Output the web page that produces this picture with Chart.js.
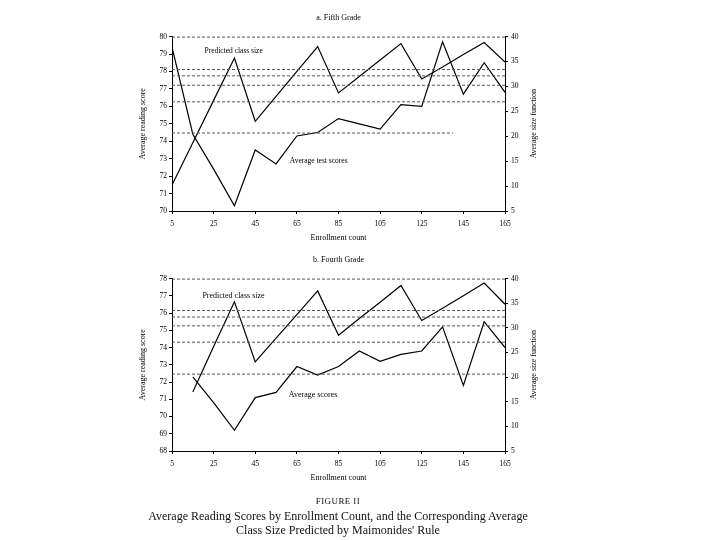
<!DOCTYPE html>
<html>
<head>
<meta charset="utf-8">
<script src="https://cdn.jsdelivr.net/npm/chart.js@4.4.1/dist/chart.umd.min.js"></script>
<style>
body{margin:0;background:#fff;}
#wrap{position:relative;width:720px;height:540px;background:#fff;}
canvas{position:absolute;left:0;}
#chartA{top:0;}
#chartB{top:242px;}
.cap{position:absolute;left:0;width:676px;text-align:center;font-family:"Liberation Serif",serif;color:#111;}
</style>
</head>
<body>
<div id="wrap">
<canvas id="chartA" width="720" height="250"></canvas>
<canvas id="chartB" width="720" height="248"></canvas>
<div class="cap" style="top:496px;font-size:9px;letter-spacing:0.4px">FIGURE II</div>
<div class="cap" style="top:509px;font-size:12px;line-height:14px">Average Reading Scores by Enrollment Count, and the Corresponding Average<br>Class Size Predicted by Maimonides' Rule</div>
</div>
<script>
// enrollment bins (x) and axis ticks
const enrollment = [5, 15, 25, 35, 45, 55, 65, 75, 85, 95, 105, 115, 125, 135, 145, 155, 165]
const xTicks = [5, 25, 45, 65, 85, 105, 125, 145, 165]

// a. Fifth grade
const scoresFifth = [79.4, 74.4, 72.4, 70.3, 73.5, 72.7, 74.3, 74.5, 75.3, 75.0, 74.7, 76.1, 76.0, 79.7, 76.7, 78.5, 76.8]
const sizeFifth = [10.2, 18.7, 27.2, 35.7, 23.0, 28.0, 33.0, 38.0, 28.7, 32.0, 35.3, 38.6, 31.5, 33.9, 36.4, 38.8, 34.9]
const guidesFifth = [78.11, 77.75, 77.21, 76.26]
const guideFifthShort = [74.47]

// b. Fourth grade
const scoresFourth = [null, 72.3, 70.8, 69.2, 71.1, 71.4, 72.9, 72.4, 72.9, 73.8, 73.2, 73.6, 73.8, 75.2, 71.8, 75.5, 74.0]
const sizeFourth = [null, 17.0, 26.2, 35.3, 23.1, 27.9, 32.7, 37.5, 28.5, 31.9, 35.2, 38.6, 31.5, 34.0, 36.5, 39.1, 34.8]
const guidesFourth = [76.15, 75.77, 75.26, 74.31, 72.46]

const serif = '"Liberation Serif", "DejaVu Serif", serif'

const extras = {
  id: 'extras',
  afterDatasetsDraw(chart, args, opts) {
    const {ctx, chartArea, scales} = chart
    ctx.save()
    // dotted top frame
    ctx.strokeStyle = '#555'
    ctx.lineWidth = 1
    ctx.setLineDash([3, 2])
    ctx.beginPath()
    ctx.moveTo(chartArea.left, chartArea.top + 0.5)
    ctx.lineTo(chartArea.right, chartArea.top + 0.5)
    ctx.stroke()
    ctx.setLineDash([])
    // labels on the lines
    ctx.fillStyle = '#000'
    ctx.font = opts.noteSize + 'px ' + serif
    ctx.textBaseline = 'middle'
    opts.notes.forEach(n => {
      ctx.fillText(n.text, scales.x.getPixelForValue(n.x), scales.y.getPixelForValue(n.y))
    })
    // right axis title, reading upwards
    ctx.font = '8px ' + serif
    ctx.textAlign = 'center'
    ctx.translate(chartArea.right + 29, (chartArea.top + chartArea.bottom) / 2)
    ctx.rotate(-Math.PI / 2)
    ctx.fillText('Average size function', 0, 0)
    ctx.restore()
  }
}

const guideSet = (g, xEnd) => ({
  data: [{x: xTicks[0], y: g}, {x: xEnd, y: g}],
  yAxisID: 'y',
  borderColor: '#555',
  borderWidth: 1,
  borderDash: [3, 2],
  pointRadius: 0
})

const lineSet = (vals, axis) => ({
  data: enrollment.map((e, i) => ({x: e, y: vals[i]})),
  yAxisID: axis,
  borderColor: '#000',
  borderWidth: 1.2,
  pointRadius: 0,
  tension: 0
})

const axisGrid = {display: true, drawOnChartArea: false, tickLength: 3, color: '#000'}
const tickFont = {family: serif, size: 7.5}

const painel = (id, titulo, scores, sizes, yMin, yMax, guides, shortGuides, notes, noteSize) => {
  const last = xTicks[xTicks.length - 1]
  const datasets = [
    ...guides.map(g => guideSet(g, last)),
    ...shortGuides.map(g => guideSet(g, 140)),
    lineSet(scores, 'y'),
    lineSet(sizes, 'y1')
  ]
  new Chart(document.getElementById(id), {
    type: 'line',
    data: {datasets: datasets},
    plugins: [extras],
    options: {
      responsive: false,
      animation: false,
      layout: {padding: {left: 134, right: 180, top: 0, bottom: 3}},
      plugins: {
        legend: {display: false},
        tooltip: {enabled: false},
        title: {
          display: true,
          text: titulo,
          fullSize: false,
          color: '#000',
          font: {family: serif, size: 8, weight: 'normal'},
          padding: {top: 13, bottom: 14}
        },
        extras: {notes: notes, noteSize: noteSize}
      },
      scales: {
        x: {
          type: 'linear',
          min: xTicks[0],
          max: last,
          afterBuildTicks: s => { s.ticks = xTicks.map(v => ({value: v})) },
          grid: axisGrid,
          border: {color: '#000', width: 1},
          ticks: {font: tickFont, color: '#000', padding: 6, maxRotation: 0, autoSkip: false},
          title: {display: true, text: 'Enrollment count', color: '#000', font: {family: serif, size: 8}, padding: {top: 0, bottom: 4}},
          afterFit: s => { s.height = 36 }
        },
        y: {
          position: 'left',
          min: yMin,
          max: yMax,
          grid: axisGrid,
          border: {color: '#000', width: 1},
          ticks: {stepSize: 1, font: tickFont, color: '#000', padding: 2},
          title: {display: true, text: 'Average reading score', color: '#000', font: {family: serif, size: 8}, padding: {top: 4, bottom: 0}},
          afterFit: s => { s.width = 38 }
        },
        y1: {
          position: 'right',
          min: 5,
          max: 40,
          grid: axisGrid,
          border: {color: '#000', width: 1},
          ticks: {stepSize: 5, font: tickFont, color: '#000', padding: 3},
          afterFit: s => { s.width = 35 }
        }
      }
    }
  })
}

painel('chartA', 'a. Fifth Grade', scoresFifth, sizeFifth, 70, 80, guidesFifth, guideFifthShort,
  [{text: 'Predicted class size', x: 20.6, y: 79.17}, {text: 'Average test scores', x: 61.6, y: 72.87}], 7.5)

painel('chartB', 'b. Fourth Grade', scoresFourth, sizeFourth, 68, 78, guidesFourth, [],
  [{text: 'Predicted class size', x: 19.6, y: 76.97}, {text: 'Average scores', x: 61.1, y: 71.28}], 8)
</script>
</body>
</html>
